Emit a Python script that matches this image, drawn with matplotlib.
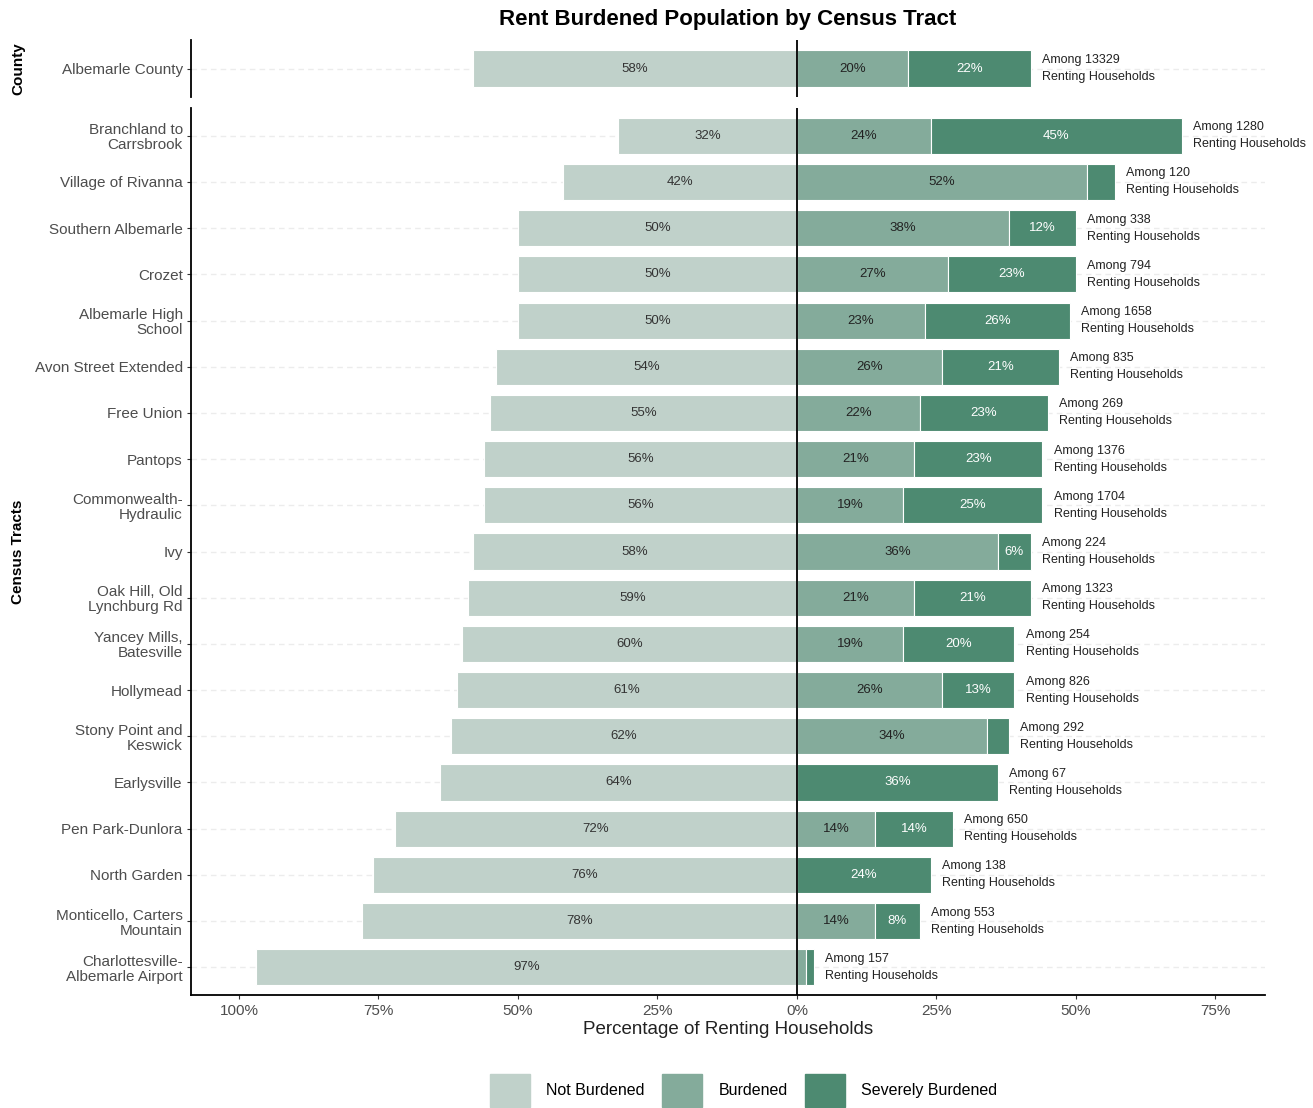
import numpy as np
import matplotlib
matplotlib.use("Agg")
import matplotlib.pyplot as plt
from matplotlib.patches import Patch

plt.rcParams['font.family'] = ['Liberation Sans', 'DejaVu Sans']

# data, top to bottom
county = ["Albemarle County"]
county_not = [58]
county_bur = [20]
county_sev = [22]
county_hh = [13329]

tracts = ["Branchland to\nCarrsbrook", "Village of Rivanna", "Southern Albemarle", "Crozet",
          "Albemarle High\nSchool", "Avon Street Extended", "Free Union", "Pantops",
          "Commonwealth-\nHydraulic", "Ivy", "Oak Hill, Old\nLynchburg Rd", "Yancey Mills,\nBatesville",
          "Hollymead", "Stony Point and\nKeswick", "Earlysville", "Pen Park-Dunlora", "North Garden",
          "Monticello, Carters\nMountain", "Charlottesville-\nAlbemarle Airport"]
not_burdened = [32, 42, 50, 50, 50, 54, 55, 56, 56, 58, 59, 60, 61, 62, 64, 72, 76, 78, 97]
burdened = [24, 52, 38, 27, 23, 26, 22, 21, 19, 36, 21, 19, 26, 34, 0, 14, 0, 14, 1.6]
severe = [45, 5, 12, 23, 26, 21, 23, 23, 25, 6, 21, 20, 13, 4, 36, 14, 24, 8, 1.4]
households = [1280, 120, 338, 794, 1658, 835, 269, 1376, 1704, 224, 1323, 254, 826, 292, 67,
              650, 138, 553, 157]

c_not = "#c0d1ca"
c_bur = "#84ab9b"
c_sev = "#4d8a71"
xmin, xmax = -108.6, 83.9

fig = plt.figure(figsize=(13.13, 11.08), dpi=100)
ax_top = fig.add_axes([0.1455, 0.9124, 0.8179, 0.0515])
ax_bot = fig.add_axes([0.1455, 0.102, 0.8179, 0.8005])


def draw(ax, names, nb, bu, sv, hh):
    n = len(names)
    y = np.arange(n)
    nb = np.array(nb, float)
    bu = np.array(bu, float)
    sv = np.array(sv, float)
    for yi in y:
        ax.axhline(yi, color="#ececec", lw=1, ls=(0, (4, 3)), zorder=0)
    h = 0.78
    ax.barh(y, -nb, height=h, color=c_not, edgecolor="white", lw=0.8, zorder=2)
    ax.barh(y, bu, height=h, color=c_bur, edgecolor="white", lw=0.8, zorder=2)
    ax.barh(y, sv, left=bu, height=h, color=c_sev, edgecolor="white", lw=0.8, zorder=2)
    for i in range(n):
        ax.text(-nb[i] / 2, y[i], f"{nb[i]:.0f}%", ha="center", va="center",
                fontsize=9.5, color="#333333", zorder=3)
        if bu[i] >= 6:
            ax.text(bu[i] / 2, y[i], f"{bu[i]:.0f}%", ha="center", va="center",
                    fontsize=9.5, color="#222222", zorder=3)
        if sv[i] >= 6:
            ax.text(bu[i] + sv[i] / 2, y[i], f"{sv[i]:.0f}%", ha="center", va="center",
                    fontsize=9.5, color="white", zorder=3)
        ax.text(bu[i] + sv[i] + 2, y[i], f"Among {hh[i]}\nRenting Households",
                ha="left", va="center", fontsize=9, color="#222222",
                linespacing=1.55, zorder=3)
    ax.axvline(0, color="black", lw=1.3, zorder=4)
    ax.set_xlim(xmin, xmax)
    ax.set_ylim(n - 0.4, -0.6)
    ax.set_yticks(y)
    ax.set_yticklabels(names, fontsize=11, color="#4d4d4d", linespacing=1.1)
    ax.tick_params(axis="y", length=3, color="#333333", pad=3)
    for s in ["top", "right"]:
        ax.spines[s].set_visible(False)
    ax.spines["left"].set_linewidth(1.3)


draw(ax_top, county, county_not, county_bur, county_sev, county_hh)
ax_top.set_ylim(0.6, -0.6)
ax_top.spines["bottom"].set_visible(False)
ax_top.set_xticks([])

draw(ax_bot, tracts, not_burdened, burdened, severe, households)
ax_bot.spines["bottom"].set_linewidth(1.3)
xt = [-100, -75, -50, -25, 0, 25, 50, 75]
ax_bot.set_xticks(xt)
ax_bot.set_xticklabels([f"{abs(v)}%" for v in xt], fontsize=11, color="#4d4d4d")
ax_bot.tick_params(axis="x", length=3, color="#333333")
ax_bot.set_xlabel("Percentage of Renting Households", fontsize=13.5, color="#222222", labelpad=2)

fig.text(0.014, 0.9381, "County", rotation=90, ha="center", va="center",
         fontsize=11, fontweight="bold")
fig.text(0.014, 0.5023, "Census Tracts", rotation=90, ha="center", va="center",
         fontsize=11, fontweight="bold")
fig.text(0.5545, 0.982, "Rent Burdened Population by Census Tract", ha="center", va="center",
         fontsize=16, fontweight="bold")

handles = [Patch(color=c_not, label="Not Burdened"),
           Patch(color=c_bur, label="Burdened"),
           Patch(color=c_sev, label="Severely Burdened")]
fig.legend(handles=handles, loc="center", bbox_to_anchor=(0.5665, 0.016), ncol=3, frameon=False,
           fontsize=11.5, handlelength=2.5, handleheight=2.8, columnspacing=1.1, handletextpad=1.0)

fig.savefig("out.png", dpi=100)
